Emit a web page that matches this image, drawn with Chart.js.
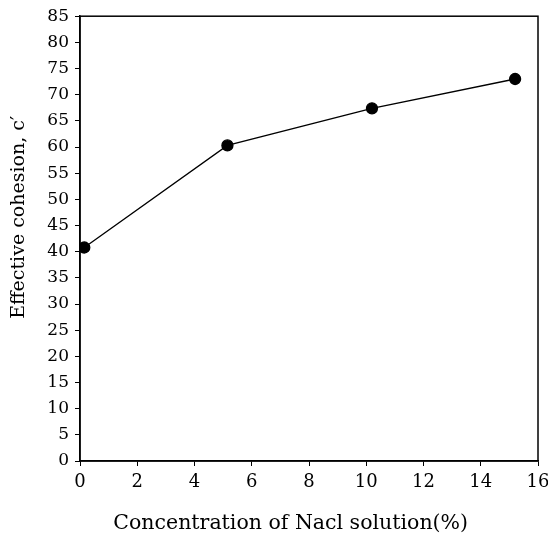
<!DOCTYPE html>
<html>
<head>
<meta charset="utf-8">
<script src="https://cdn.jsdelivr.net/npm/chart.js@4/dist/chart.umd.min.js"></script>
<style>
    html, body { margin: 0; padding: 0; background: #fff; }
    #wrap { width: 548px; height: 544px; }
</style>
</head>
<body>
<div id="wrap"><canvas id="cohesion-chart" width="548" height="544"></canvas></div>
<script>
// Data
const concentration = [0.15, 5.15, 10.2, 15.2];
const cohesion = [40.8, 60.3, 67.4, 73.0];

const xTitle = 'Concentration of Nacl solution(%)';
const yTitle = 'Effective cohesion, c\u2032';

const serif = '"DejaVu Serif", "Liberation Serif", serif';

// frame around the plot area + both axis titles (they sit off-centre in the original)
const framePlugin = {
    id: 'frame',
    afterDatasetsDraw(chart) {
        const { ctx, chartArea: a } = chart;
        ctx.save();
        ctx.strokeStyle = '#000';
        ctx.lineWidth = 1.5;
        ctx.strokeRect(a.left, a.top, a.right - a.left, a.bottom - a.top);
        ctx.restore();
    },
    afterDraw(chart) {
        const ctx = chart.ctx;
        const a = chart.chartArea;
        ctx.save();
        ctx.fillStyle = '#000';
        ctx.textAlign = 'center';
        ctx.textBaseline = 'middle';

        ctx.font = '20.5px ' + serif;
        ctx.fillText(xTitle, a.left + (a.right - a.left) * 0.46, 524);

        ctx.translate(19, a.top + (a.bottom - a.top) * 0.452);
        ctx.rotate(-Math.PI / 2);
        ctx.font = '19px ' + serif;
        ctx.fillText(yTitle, 0, 0);
        ctx.restore();
    }
};

const ctx = document.getElementById('cohesion-chart');
new Chart(ctx, {
    type: 'scatter',
    data: {
        datasets: [{
            data: concentration.map((x, i) => ({ x: x, y: cohesion[i] })),
            showLine: true,
            borderColor: '#000',
            borderWidth: 1.3,
            backgroundColor: '#000',
            pointRadius: 5.5,
            pointHoverRadius: 5.5
        }]
    },
    options: {
        responsive: false,
        animation: false,
        layout: { padding: { top: 15, right: 10 } },
        plugins: {
            legend: { display: false },
            tooltip: { enabled: false }
        },
        scales: {
            x: {
                type: 'linear',
                min: 0,
                max: 16,
                afterFit(scale) {
                    scale.height = 83;
                    scale.paddingRight = 0;
                },
                ticks: {
                    stepSize: 2,
                    color: '#000',
                    padding: 6,
                    font: { family: serif, size: 18 }
                },
                grid: { drawOnChartArea: false, tickLength: 5, color: '#000' },
                border: { color: '#000', width: 1.5 }
            },
            y: {
                min: 0,
                max: 85,
                afterFit(scale) { scale.width = 80; },
                ticks: {
                    stepSize: 5,
                    color: '#000',
                    padding: 6,
                    font: { family: serif, size: 17 }
                },
                grid: { drawOnChartArea: false, tickLength: 5, color: '#000' },
                border: { color: '#000', width: 1.5 }
            }
        }
    },
    plugins: [framePlugin]
});
</script>
</body>
</html>
